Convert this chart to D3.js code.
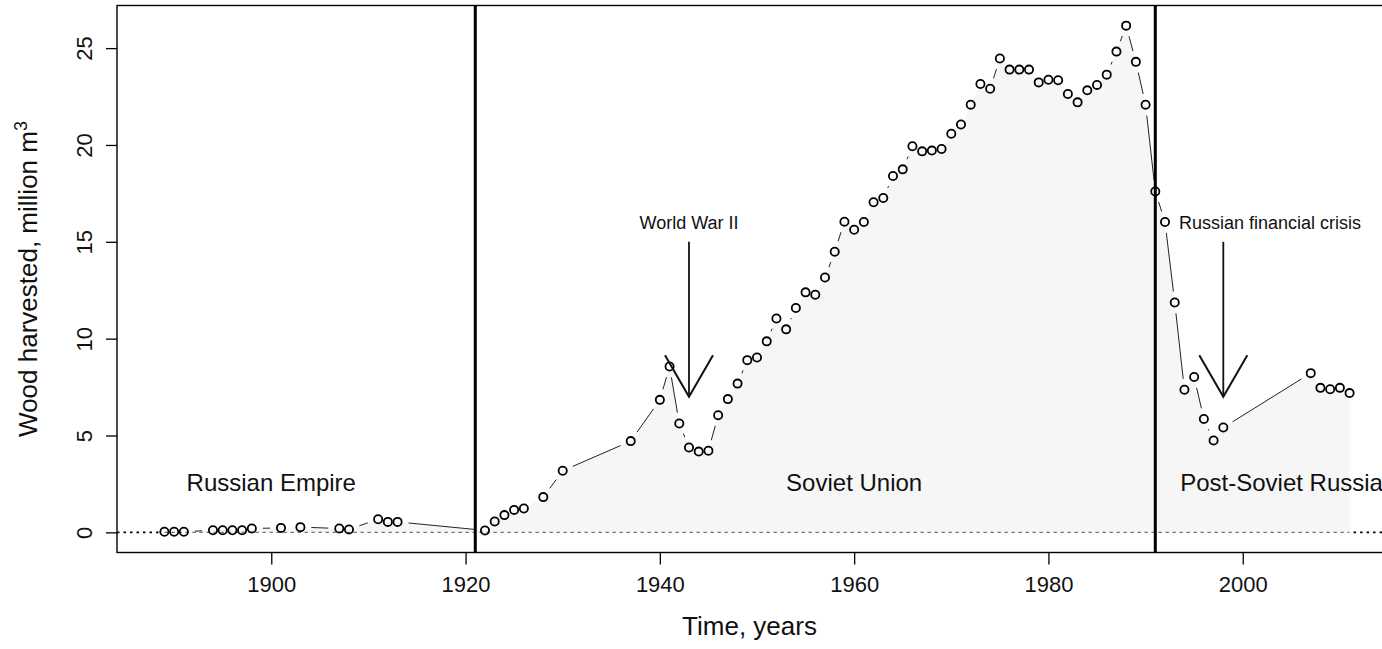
<!DOCTYPE html>
<html><head><meta charset="utf-8">
<script src="https://cdn.jsdelivr.net/npm/d3@7"></script>
<style>
html,body{margin:0;padding:0;background:#fff;overflow:hidden}
svg{display:block;font-family:"Liberation Sans",Arial,Helvetica,sans-serif}
</style>
</head><body>
<svg id="chart" width="1382" height="649"></svg>
<script>
// ---------- data ----------
const years = [1889,1890,1891,1894,1895,1896,1897,1898,1901,1903,1907,1908,1911,1912,1913,
  1922,1923,1924,1925,1926,1928,1930,1937,1940,1941,1942,1943,1944,1945,1946,1947,1948,1949,1950,
  1951,1952,1953,1954,1955,1956,1957,1958,1959,1960,1961,1962,1963,1964,1965,1966,1967,1968,1969,1970,
  1971,1972,1973,1974,1975,1976,1977,1978,1979,1980,1981,1982,1983,1984,1985,1986,1987,1988,1989,1990,
  1991,1992,1993,1994,1995,1996,1997,1998,2007,2008,2009,2010,2011];
const harvest = [0.03,0.03,0.03,0.11,0.11,0.11,0.11,0.2,0.23,0.27,0.2,0.15,0.68,0.54,0.54,
  0.1,0.56,0.89,1.16,1.23,1.82,3.18,4.71,6.84,8.56,5.62,4.38,4.17,4.21,6.05,6.88,7.68,8.89,9.03,
  9.86,11.04,10.48,11.58,12.39,12.27,13.16,14.49,16.04,15.62,16.02,17.04,17.26,18.40,18.74,19.93,19.67,19.71,19.79,20.58,
  21.06,22.08,23.15,22.9,24.46,23.89,23.89,23.89,23.23,23.37,23.34,22.63,22.2,22.82,23.1,23.63,24.82,26.16,24.29,22.08,
  17.6,16.02,11.87,7.36,8.02,5.85,4.74,5.41,8.22,7.46,7.39,7.46,7.19];
const xTicks = [1900,1920,1940,1960,1980,2000];
const yTicks = [0,5,10,15,20,25];
const eraBoundaries = [1921,1991];
const eraLabels = ["Russian Empire","Soviet Union","Post-Soviet Russia"];
const eraLabelYears = [1900,1960,2004];
const eventLabels = ["World War II","Russian financial crisis"];
const eventYears = [1943,1998];

// ---------- layout ----------
const svg = d3.select("#chart");
const L = 117, R = 1397, T = 5.5, B = 552.5;
const x = d3.scaleLinear().domain([1884.12, 2015.88]).range([L, R]);
const y = d3.scaleLinear().domain([-1.04, 27.2]).range([B, T]);
const pts = years.map((yr,i)=>({yr, v:harvest[i]}));

const g = svg.append("g");
svg.append("clipPath").attr("id","pc").append("rect")
  .attr("x",L).attr("y",T).attr("width",R-L).attr("height",B-T);
const pg = g.append("g").attr("clip-path","url(#pc)");

// filled area under curve
pg.append("path").datum(pts)
  .attr("d", d3.area().x(d=>x(d.yr)).y0(y(0)).y1(d=>y(d.v)))
  .attr("fill","#f6f6f6").attr("stroke","none");

// zero line
const x0 = x(years[0]), x1 = x(years[years.length-1]);
pg.append("line").attr("x1",L).attr("x2",x0-4).attr("y1",y(0)).attr("y2",y(0))
  .attr("stroke","#000").attr("stroke-width",1.6).attr("stroke-dasharray","2.5,4");
pg.append("line").attr("x1",x1+4).attr("x2",R).attr("y1",y(0)).attr("y2",y(0))
  .attr("stroke","#000").attr("stroke-width",1.6).attr("stroke-dasharray","2.5,4");
pg.append("line").attr("x1",x0).attr("x2",x1).attr("y1",y(0)).attr("y2",y(0))
  .attr("stroke","#777").attr("stroke-width",1.1).attr("stroke-dasharray","3.5,3.5");

// line segments with gaps (type = "b")
const gap = 11;
for (let i=0;i<pts.length-1;i++){
  const ax=x(pts[i].yr), ay=y(pts[i].v), bx=x(pts[i+1].yr), by=y(pts[i+1].v);
  const dx=bx-ax, dy=by-ay, len=Math.hypot(dx,dy);
  if (len <= 2*gap+1) continue;
  const ux=dx/len, uy=dy/len;
  pg.append("line").attr("x1",ax+ux*gap).attr("y1",ay+uy*gap)
    .attr("x2",bx-ux*gap).attr("y2",by-uy*gap)
    .attr("stroke","#222").attr("stroke-width",1);
}

// era boundaries
eraBoundaries.forEach(yr=>{
  pg.append("line").attr("x1",x(yr)).attr("x2",x(yr)).attr("y1",T).attr("y2",B)
    .attr("stroke","#000").attr("stroke-width",3);
});

// points
pg.selectAll("circle.pt").data(pts).enter().append("circle")
  .attr("cx",d=>x(d.yr)).attr("cy",d=>y(d.v)).attr("r",4.1)
  .attr("fill","none").attr("stroke","#000").attr("stroke-width",1.8);

// era labels
eraLabels.forEach((t,i)=>{
  g.append("text").attr("x",x(eraLabelYears[i])).attr("y",491)
    .attr("text-anchor","middle").attr("font-size",24).attr("fill","#111").text(t);
});

// events: arrows + labels
eventYears.forEach((yr,i)=>{
  const ax = x(yr), top = y(15), tip = y(7);
  const hl = 48, ang = Math.PI/6;
  g.append("line").attr("x1",ax).attr("x2",ax).attr("y1",top).attr("y2",tip)
    .attr("stroke","#111").attr("stroke-width",1.8);
  g.append("path")
    .attr("d",`M${ax-hl*Math.sin(ang)},${tip-hl*Math.cos(ang)}L${ax},${tip}L${ax+hl*Math.sin(ang)},${tip-hl*Math.cos(ang)}`)
    .attr("fill","none").attr("stroke","#111").attr("stroke-width",2);
});
g.append("text").attr("x",x(eventYears[0])).attr("y",229).attr("text-anchor","middle")
  .attr("font-size",18).attr("fill","#111").text(eventLabels[0]);
g.append("text").attr("x",x(1992)+14).attr("y",229).attr("text-anchor","start")
  .attr("font-size",18).attr("fill","#111").text(eventLabels[1]);

// box
g.append("rect").attr("x",L).attr("y",T).attr("width",R-L).attr("height",B-T)
  .attr("fill","none").attr("stroke","#000").attr("stroke-width",1.4);

// x axis
const xa = g.append("g").attr("transform",`translate(0,${B})`)
  .call(d3.axisBottom(x).tickValues(xTicks).tickFormat(d3.format("d")).tickSize(12).tickPadding(0));
xa.select(".domain").remove();
xa.selectAll(".tick line").attr("stroke","#000").attr("stroke-width",1.3);
xa.selectAll(".tick text").attr("y",39.5).attr("dy",0).attr("font-size",22)
  .attr("font-family","'Liberation Sans',Arial,sans-serif").attr("fill","#111");

// y axis
const ya = g.append("g").attr("transform",`translate(${L},0)`)
  .call(d3.axisLeft(y).tickValues(yTicks).tickSize(11));
ya.select(".domain").remove();
ya.selectAll(".tick line").attr("stroke","#000").attr("stroke-width",1.3);
ya.selectAll(".tick text").attr("x",0).attr("dy",0).attr("text-anchor","middle")
  .attr("transform","translate(-25,0) rotate(-90)")
  .attr("font-size",22).attr("font-family","'Liberation Sans',Arial,sans-serif").attr("fill","#111");

// axis titles
g.append("text").attr("x",(L+1382)/2).attr("y",635).attr("text-anchor","middle")
  .attr("font-size",26).attr("fill","#111").text("Time, years");
const yt = g.append("text").attr("transform",`translate(37,${(T+B)/2}) rotate(-90)`)
  .attr("text-anchor","middle").attr("font-size",26).attr("fill","#111");
yt.append("tspan").text("Wood harvested, million m");
yt.append("tspan").attr("dy",-10).attr("font-size",18).text("3");
</script>
</body></html>
